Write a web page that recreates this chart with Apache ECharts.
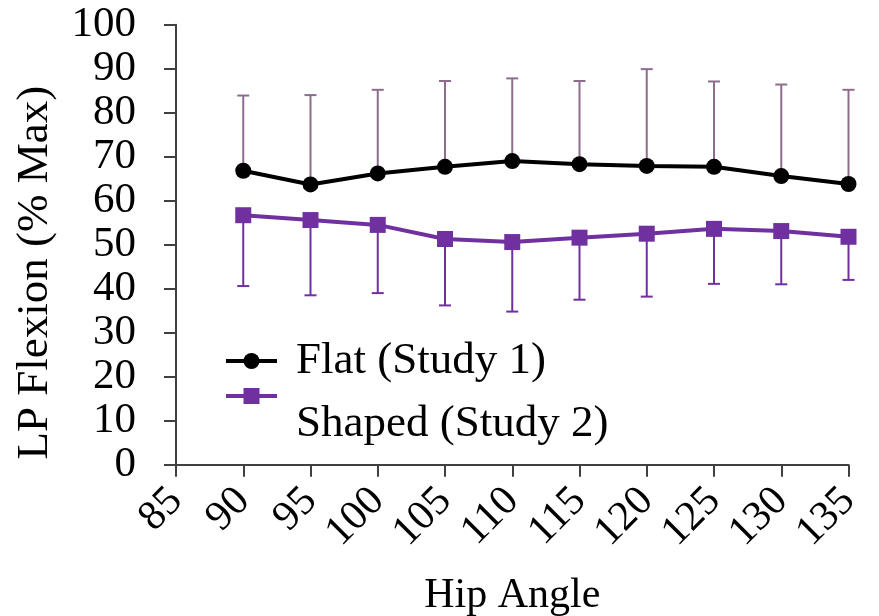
<!DOCTYPE html>
<html>
<head>
<meta charset="utf-8">
<script src="https://cdn.jsdelivr.net/npm/echarts@6/dist/echarts.min.js"></script>
<style>html,body{margin:0;padding:0;background:#fff}#c{width:879px;height:616px}</style>
</head>
<body>
<div id="c"></div>
<script>
const hipAngles = [90, 95, 100, 105, 110, 115, 120, 125, 130, 135];
const flatMean = [66.8, 63.7, 66.2, 67.7, 69.0, 68.3, 67.9, 67.7, 65.6, 63.8];
const flatUpper = [83.9, 84.0, 85.2, 87.2, 87.8, 87.2, 89.9, 87.1, 86.4, 85.2];
const shapedMean = [56.7, 55.6, 54.5, 51.3, 50.6, 51.6, 52.5, 53.6, 53.1, 51.8];
const shapedLower = [40.6, 38.5, 39.0, 36.2, 34.8, 37.5, 38.2, 41.1, 41.0, 42.0];
const seriesNames = ['Flat (Study 1)', 'Shaped (Study 2)'];
const xAxisTitle = 'Hip Angle';
const yAxisTitle = 'LP Flexion (% Max)';

const FONT = "'Liberation Serif', 'DejaVu Serif', serif";
const PURPLE = '#7030a0';
const FLAT_ERR = '#8c6e8c';

function errRender(color) {
  return function (params, api) {
    const x = api.value(0);
    const p0 = api.coord([x, api.value(1)]);
    const p1 = api.coord([x, api.value(2)]);
    const hw = 6;
    return {
      type: 'group',
      children: [
        { type: 'line', shape: { x1: p0[0], y1: p0[1], x2: p1[0], y2: p1[1] }, style: { stroke: color, lineWidth: 2 } },
        { type: 'line', shape: { x1: p1[0] - hw, y1: p1[1], x2: p1[0] + hw, y2: p1[1] }, style: { stroke: color, lineWidth: 2 } }
      ]
    };
  };
}

const chart = echarts.init(document.getElementById('c'), null, { renderer: 'canvas' });
chart.setOption({
  animation: false,
  backgroundColor: '#ffffff',
  grid: { left: 176, right: 30.5, top: 24.7, bottom: 151.3, containLabel: false, outerBoundsMode: 'none' },
  xAxis: {
    type: 'value', min: 85, max: 135, interval: 5,
    name: xAxisTitle, nameLocation: 'middle', nameGap: 110,
    nameTextStyle: { fontFamily: FONT, fontSize: 42, color: '#000' },
    axisLine: { show: true, onZero: false, lineStyle: { color: '#404040', width: 2 } },
    axisTick: { show: true, inside: false, length: 12, lineStyle: { color: '#404040', width: 2 } },
    axisLabel: { rotate: 45, margin: 30, fontFamily: FONT, fontSize: 42, color: '#000' },
    splitLine: { show: false }
  },
  yAxis: {
    type: 'value', min: 0, max: 100, interval: 10,
    name: yAxisTitle, nameLocation: 'middle', nameGap: 118,
    nameTextStyle: { fontFamily: FONT, fontSize: 45, color: '#000', padding: [0, 56, 0, 0] },
    axisLine: { show: true, lineStyle: { color: '#404040', width: 2 } },
    axisTick: { show: true, inside: false, length: 12, lineStyle: { color: '#404040', width: 2 } },
    axisLabel: { margin: 40, fontFamily: FONT, fontSize: 43, color: '#000' },
    splitLine: { show: false }
  },
  legend: [
    {
      left: 224, top: 336, padding: 0, orient: 'vertical', itemWidth: 51, itemHeight: 20,
      data: [{ name: seriesNames[0] }],
      lineStyle: { width: 4 },
      textStyle: { fontFamily: FONT, fontSize: 45, lineHeight: 50, color: '#000', padding: [0, 0, 0, 14] }
    },
    {
      left: 224, top: 340, padding: 0, orient: 'vertical', itemWidth: 51, itemHeight: 20,
      data: [{ name: seriesNames[1] }],
      formatter: function (n) { return '\n' + n; },
      lineStyle: { width: 4 },
      textStyle: { fontFamily: FONT, fontSize: 45, lineHeight: 56, color: '#000', padding: [0, 0, 0, 14] }
    }
  ],
  series: [
    {
      type: 'custom', name: 'flatErr', z: 1, silent: true,
      renderItem: errRender(FLAT_ERR),
      data: hipAngles.map((x, i) => [x, flatMean[i], flatUpper[i]])
    },
    {
      type: 'custom', name: 'shapedErr', z: 1, silent: true,
      renderItem: errRender(PURPLE),
      data: hipAngles.map((x, i) => [x, shapedMean[i], shapedLower[i]])
    },
    {
      type: 'line', name: seriesNames[0], z: 3,
      data: hipAngles.map((x, i) => [x, flatMean[i]]),
      symbol: 'circle', symbolSize: 16,
      lineStyle: { color: '#000', width: 4 },
      itemStyle: { color: '#000' }
    },
    {
      type: 'line', name: seriesNames[1], z: 3,
      data: hipAngles.map((x, i) => [x, shapedMean[i]]),
      symbol: 'rect', symbolSize: 16,
      lineStyle: { color: PURPLE, width: 4 },
      itemStyle: { color: PURPLE }
    }
  ]
});
</script>
</body>
</html>
